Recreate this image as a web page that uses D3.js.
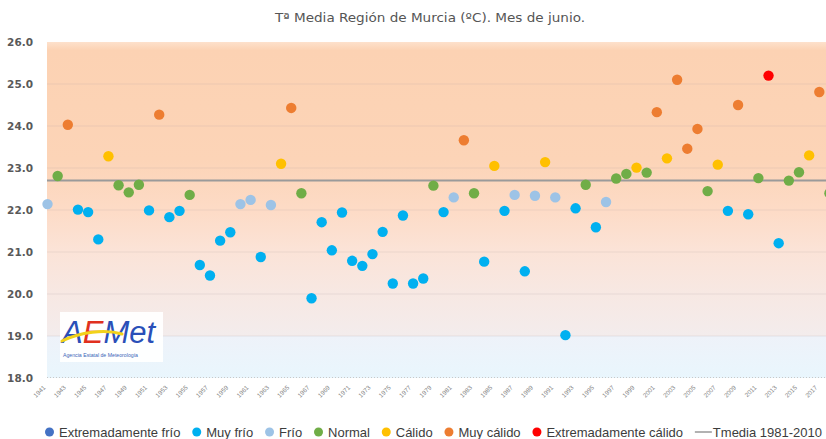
<!DOCTYPE html>
<html><head><meta charset="utf-8">
<script src="https://cdn.jsdelivr.net/npm/d3@7"></script>
<style>body{margin:0;background:#fff}svg{display:block}</style>
</head><body><svg id="c" width="826" height="439"></svg>
<script>
// ---- data ----
const years = [1941,1942,1943,1944,1945,1946,1947,1948,1949,1950,
  1951,1952,1953,1954,1955,1956,1957,1958,1959,1960,
  1961,1962,1963,1964,1965,1966,1967,1968,1969,1970,
  1971,1972,1973,1974,1975,1976,1977,1978,1979,1980,
  1981,1982,1983,1984,1985,1986,1987,1988,1989,1990,
  1991,1992,1993,1994,1995,1996,1997,1998,1999,2000,
  2001,2002,2003,2004,2005,2006,2007,2008,2009,2010,
  2011,2012,2013,2014,2015,2016,2017,2018];
const tempValues = [22.14,22.81,24.03,22.01,21.95,21.30,23.28,22.59,22.42,22.60,
  21.99,24.27,21.83,21.98,22.36,20.69,20.44,21.27,21.47,22.14,
  22.24,20.88,22.12,23.10,24.43,22.40,19.90,21.71,21.04,21.94,
  20.79,20.67,20.95,21.48,20.25,21.87,20.25,20.37,22.58,21.95,
  22.30,23.66,22.40,20.77,23.05,21.98,22.36,20.54,22.34,23.14,
  22.30,19.02,22.04,22.60,21.59,22.19,22.75,22.86,23.01,22.89,
  24.33,23.23,25.10,23.46,23.93,22.45,23.08,21.98,24.50,21.90,
  22.76,25.20,21.21,22.70,22.90,23.30,24.81,22.40];
const classes = ["Frío","Normal","Muy cálido","Muy frío","Muy frío","Muy frío","Cálido","Normal","Normal","Normal",
  "Muy frío","Muy cálido","Muy frío","Muy frío","Normal","Muy frío","Muy frío","Muy frío","Muy frío","Frío",
  "Frío","Muy frío","Frío","Cálido","Muy cálido","Normal","Muy frío","Muy frío","Muy frío","Muy frío",
  "Muy frío","Muy frío","Muy frío","Muy frío","Muy frío","Muy frío","Muy frío","Muy frío","Normal","Muy frío",
  "Frío","Muy cálido","Normal","Muy frío","Cálido","Muy frío","Frío","Muy frío","Frío","Cálido",
  "Frío","Muy frío","Muy frío","Normal","Muy frío","Frío","Normal","Normal","Cálido","Normal",
  "Muy cálido","Cálido","Muy cálido","Muy cálido","Muy cálido","Normal","Cálido","Muy frío","Muy cálido","Muy frío",
  "Normal","Extremadamente cálido","Muy frío","Normal","Normal","Cálido","Muy cálido","Normal"];
const categoryNames = ["Extremadamente frío","Muy frío","Frío","Normal","Cálido","Muy cálido","Extremadamente cálido"];
const categoryColors = ["#4472c4","#00b0f0","#9dc3e6","#70ad47","#ffc000","#ed7d31","#ff0000"];
const yTicks = [18,19,20,21,22,23,24,25,26];
const xTickYears = [1941,1943,1945,1947,1949,1951,1953,1955,1957,1959,1961,1963,1965,1967,1969,
  1971,1973,1975,1977,1979,1981,1983,1985,1987,1989,1991,1993,1995,1997,1999,2001,2003,2005,
  2007,2009,2011,2013,2015,2017];
const tmediaValue = 22.70;
const tmediaLabel = "Tmedia 1981-2010";
const titleText = "Tª Media Región de Murcia (ºC). Mes de junio.";

// ---- layout ----
const plotL = 47, plotR = 826, plotT = 42, plotB = 378;
const svg = d3.select("#c");
const x = d3.scaleLinear().domain([1941, 2017]).range([47.5, 819.3]);
const y = d3.scaleLinear().domain([18, 26]).range([plotB, plotT]);
const color = d3.scaleOrdinal().domain(categoryNames).range(categoryColors);

// background gradient
const defs = svg.append("defs");
const g = defs.append("linearGradient").attr("id","bg").attr("x1",0).attr("y1",0).attr("x2",0).attr("y2",1);
[[0,"#fde1cc"],[0.025,"#fcd2b3"],[0.35,"#fcd4b7"],[0.5,"#fddbc6"],[0.62,"#fbe3d7"],
 [0.75,"#f7e8e3"],[0.874,"#f3ecec"],[0.876,"#eef2f9"],[1,"#e9f6fd"]]
 .forEach(([o,c]) => g.append("stop").attr("offset",o).attr("stop-color",c));
svg.append("rect").attr("x",plotL).attr("y",plotT).attr("width",plotR-plotL).attr("height",plotB-plotT)
  .attr("fill","url(#bg)");

// gridlines
svg.append("g").selectAll("line").data(yTicks.filter(d => d>18 && d<26)).join("line")
  .attr("x1",plotL).attr("x2",plotR).attr("y1",d=>y(d)).attr("y2",d=>y(d))
  .attr("stroke","#b4a8a4").attr("stroke-opacity",0.22).attr("stroke-width",1);
svg.append("line").attr("x1",plotL).attr("x2",plotR).attr("y1",plotB-0.5).attr("y2",plotB-0.5)
  .attr("stroke","#c8c8c8").attr("stroke-dasharray","1,2");

// title
svg.append("text").attr("x",430).attr("y",22).attr("text-anchor","middle")
  .attr("font-family","'DejaVu Sans Condensed','DejaVu Sans',sans-serif").attr("font-stretch","condensed")
  .attr("font-size",13).attr("fill","#555").attr("textLength",310).attr("lengthAdjust","spacingAndGlyphs")
  .text(titleText);

// y axis labels
const yAxis = d3.axisLeft(y).tickValues(yTicks).tickFormat(d3.format(".1f")).tickSize(0).tickPadding(0);
const ya = svg.append("g").attr("transform",`translate(33,0)`).call(yAxis);
ya.select(".domain").remove();
ya.selectAll("text").attr("font-family","'DejaVu Sans',sans-serif").attr("font-weight","bold")
  .attr("font-size",10.5).attr("fill","#595959").attr("dy","0.35em");

// x axis labels
const xAxis = d3.axisBottom(x).tickValues(xTickYears).tickFormat(d3.format("d")).tickSize(0).tickPadding(0);
const xa = svg.append("g").attr("transform",`translate(0,${plotB})`).call(xAxis);
xa.select(".domain").remove();
xa.selectAll("text").attr("font-family","'Liberation Sans',sans-serif").attr("font-size",6.3)
  .attr("fill","#808080").attr("text-anchor","end").attr("dy",0)
  .attr("transform","translate(-2,10) rotate(-45)");

// Tmedia line
svg.append("line").attr("x1",plotL).attr("x2",plotR).attr("y1",y(tmediaValue)).attr("y2",y(tmediaValue))
  .attr("stroke","#9a9a9a").attr("stroke-width",2);

// logo
const logo = svg.append("g").attr("transform","translate(60,312)");
logo.append("rect").attr("width",103).attr("height",50).attr("fill","#fff").attr("opacity",0.95);
const lt = logo.append("text").attr("x",2).attr("y",31).attr("font-family","'Liberation Sans',sans-serif")
  .attr("font-style","italic").attr("font-size",31);
lt.append("tspan").attr("fill","#2a4fb8").text("A");
lt.append("tspan").attr("fill","#e0301e").text("E");
lt.append("tspan").attr("fill","#2a4fb8").text("Met");
logo.append("path").attr("d","M2,29 C20,20 45,17 62,22").attr("fill","none")
  .attr("stroke","#f2d21a").attr("stroke-width",3).attr("stroke-linecap","round");
logo.append("text").attr("x",3).attr("y",45).attr("font-family","'Liberation Sans',sans-serif")
  .attr("font-size",5.2).attr("fill","#3a66b8").text("Agencia Estatal de Meteorología");

// points
const pts = years.map((yr,i) => ({yr, v: tempValues[i], c: classes[i]}));
svg.append("g").selectAll("circle").data(pts).join("circle")
  .attr("cx",d=>x(d.yr)).attr("cy",d=>y(d.v)).attr("r",5.2)
  .attr("fill",d=>color(d.c));

// legend: sequential layout spanning from x=45 to x=822
const lg = svg.append("g").attr("font-family","'Liberation Sans',sans-serif").attr("font-size",13).attr("fill","#3c3c3c");
const items = categoryNames.map((n,i) => ({label:n, col:categoryColors[i], type:"dot"}))
  .concat([{label:tmediaLabel, col:"#7f7f7f", type:"line"}]);
const legendStart = 45, legendEnd = 822, legY = 432;
items.forEach(it => {
  it.g = lg.append("g");
  if (it.type === "dot") {
    it.g.append("circle").attr("cx",4.5).attr("cy",0).attr("r",4.5).attr("fill",it.col);
    it.sym = 9 + 5;
  } else {
    it.g.append("line").attr("x1",0).attr("x2",17).attr("y1",0).attr("y2",0).attr("stroke",it.col).attr("stroke-width",1.2);
    it.sym = 18;
  }
  it.t = it.g.append("text").attr("x",it.sym).attr("y",4.5).text(it.label);
  it.w = it.sym + it.t.node().getComputedTextLength();
});
const totalW = d3.sum(items, d => d.w);
const gap = (legendEnd - legendStart - totalW) / (items.length - 1);
let cx = legendStart;
items.forEach(it => { it.g.attr("transform",`translate(${cx},${legY})`); cx += it.w + gap; });
</script></body></html>
